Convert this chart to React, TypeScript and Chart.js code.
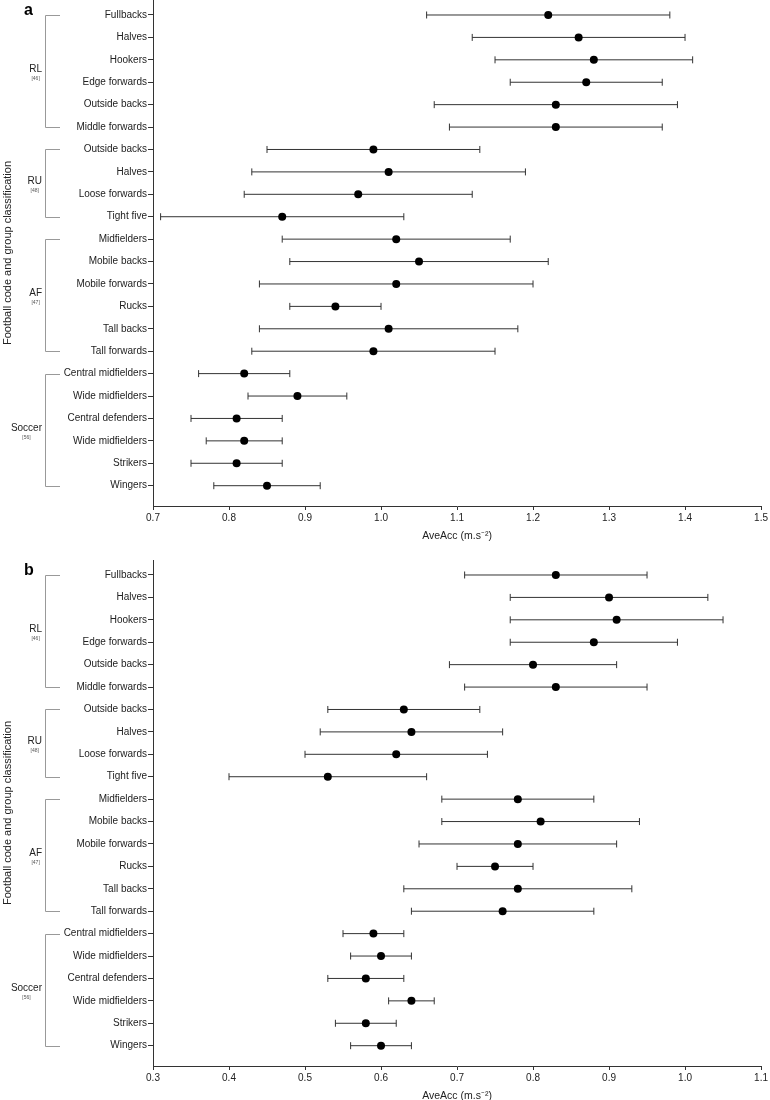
import React, { useEffect, useRef } from 'react';
import { Chart, registerables } from 'chart.js';

Chart.register(...registerables);

const FONT = "'Liberation Sans', Arial, Helvetica, sans-serif";

// Row labels (top to bottom)
const positions = [
  'Fullbacks', 'Halves', 'Hookers', 'Edge forwards', 'Outside backs', 'Middle forwards',
  'Outside backs', 'Halves', 'Loose forwards', 'Tight five',
  'Midfielders', 'Mobile backs', 'Mobile forwards', 'Rucks', 'Tall backs', 'Tall forwards',
  'Central midfielders', 'Wide midfielders', 'Central defenders', 'Wide midfielders', 'Strikers', 'Wingers',
];

// Groups
const groupNames = ['RL', 'RU', 'AF', 'Soccer'];
const groupRefs = ['[46]', '[48]', '[47]', '[56]'];
const groupSizes = [6, 4, 6, 6];

// Panel a
const meanA = [1.22, 1.26, 1.28, 1.27, 1.23, 1.23, 0.99, 1.01, 0.97, 0.87, 1.02, 1.05, 1.02, 0.94, 1.01, 0.99, 0.82, 0.89, 0.81, 0.82, 0.81, 0.85];
const lowA = [1.06, 1.12, 1.15, 1.17, 1.07, 1.09, 0.85, 0.83, 0.82, 0.71, 0.87, 0.88, 0.84, 0.88, 0.84, 0.83, 0.76, 0.825, 0.75, 0.77, 0.75, 0.78];
const highA = [1.38, 1.40, 1.41, 1.37, 1.39, 1.37, 1.13, 1.19, 1.12, 1.03, 1.17, 1.22, 1.20, 1.00, 1.18, 1.15, 0.88, 0.955, 0.87, 0.87, 0.87, 0.92];
const xTicksA = [0.7, 0.8, 0.9, 1.0, 1.1, 1.2, 1.3, 1.4, 1.5];

// Panel b
const meanB = [0.83, 0.90, 0.91, 0.88, 0.80, 0.83, 0.63, 0.64, 0.62, 0.53, 0.78, 0.81, 0.78, 0.75, 0.78, 0.76, 0.59, 0.60, 0.58, 0.64, 0.58, 0.60];
const lowB = [0.71, 0.77, 0.77, 0.77, 0.69, 0.71, 0.53, 0.52, 0.50, 0.40, 0.68, 0.68, 0.65, 0.70, 0.63, 0.64, 0.55, 0.56, 0.53, 0.61, 0.54, 0.56];
const highB = [0.95, 1.03, 1.05, 0.99, 0.91, 0.95, 0.73, 0.76, 0.74, 0.66, 0.88, 0.94, 0.91, 0.80, 0.93, 0.88, 0.63, 0.64, 0.63, 0.67, 0.62, 0.64];
const xTicksB = [0.3, 0.4, 0.5, 0.6, 0.7, 0.8, 0.9, 1.0, 1.1];

const xTitle = 'AveAcc (m.s\u207B\u00B2)';
const yTitle = 'Football code and group classification';

type PanelProps = {
  letter: string;
  lows: number[];
  means: number[];
  highs: number[];
  xTicks: number[];
  top: number;
};

function Panel({ letter, lows, means, highs, xTicks, top }: PanelProps) {
  const ref = useRef<HTMLCanvasElement>(null);

  useEffect(() => {
    const canvas = ref.current;
    if (!canvas) return;

    const decor = {
      id: 'decor',
      beforeDatasetsDraw(chart: any) {
        const { ctx } = chart;
        const x = chart.scales.x;
        const y = chart.scales.y;
        ctx.save();
        ctx.strokeStyle = '#333';
        ctx.lineWidth = 1;
        for (let i = 0; i < means.length; i++) {
          const yy = y.getPixelForValue(i);
          const x1 = x.getPixelForValue(lows[i]);
          const x2 = x.getPixelForValue(highs[i]);
          ctx.beginPath();
          ctx.moveTo(x1, yy);
          ctx.lineTo(x2, yy);
          ctx.moveTo(x1, yy - 3.5);
          ctx.lineTo(x1, yy + 3.5);
          ctx.moveTo(x2, yy - 3.5);
          ctx.lineTo(x2, yy + 3.5);
          ctx.stroke();
        }
        ctx.restore();
      },
      afterDraw(chart: any) {
        const { ctx, chartArea } = chart;
        const y = chart.scales.y;
        ctx.save();
        // panel letter
        ctx.font = `bold 16px ${FONT}`;
        ctx.fillStyle = '#000';
        ctx.textAlign = 'left';
        ctx.textBaseline = 'alphabetic';
        ctx.fillText(letter, 24, chartArea.top + 15);

        let start = 0;
        groupSizes.forEach((n, g) => {
          const y1 = Math.round(y.getPixelForValue(start)) + 0.5;
          const y2 = Math.round(y.getPixelForValue(start + n - 1)) + 0.5;
          ctx.strokeStyle = '#999';
          ctx.lineWidth = 1;
          ctx.beginPath();
          ctx.moveTo(60, y1);
          ctx.lineTo(45.5, y1);
          ctx.lineTo(45.5, y2);
          ctx.lineTo(60, y2);
          ctx.stroke();

          const mid = (y1 + y2) / 2;
          ctx.font = `10px ${FONT}`;
          ctx.fillStyle = '#222';
          ctx.textAlign = 'right';
          ctx.textBaseline = 'middle';
          ctx.fillText(groupNames[g], 42, mid - 2);
          const w = ctx.measureText(groupNames[g]).width;
          ctx.font = `5px ${FONT}`;
          ctx.fillStyle = '#555';
          ctx.textAlign = 'center';
          ctx.fillText(groupRefs[g], 42 - w / 2, mid + 7);
          start += n;
        });
        ctx.restore();
      },
    };

    const chart = new Chart(canvas, {
      type: 'scatter',
      data: {
        datasets: [
          {
            data: means.map((m, i) => ({ x: m, y: i })),
            pointRadius: 4,
            pointHoverRadius: 4,
            pointBackgroundColor: '#000',
            pointBorderWidth: 0,
            showLine: false,
          },
        ],
      },
      options: {
        responsive: false,
        animation: false,
        devicePixelRatio: 1,
        events: [],
        layout: { padding: { top: 10, right: 7, bottom: 0, left: 0 } },
        plugins: {
          legend: { display: false },
          tooltip: { enabled: false },
        },
        scales: {
          x: {
            type: 'linear',
            position: 'bottom',
            min: xTicks[0],
            max: xTicks[xTicks.length - 1],
            afterBuildTicks: (s: any) => {
              s.ticks = xTicks.map((v) => ({ value: v }));
            },
            afterFit: (s: any) => {
              s.height = 44;
            },
            ticks: {
              callback: (v: any) => Number(v).toFixed(1),
              color: '#222',
              font: { size: 10, family: FONT },
              padding: 2,
              maxRotation: 0,
              autoSkip: false,
            },
            grid: { display: true, drawOnChartArea: false, drawTicks: true, tickLength: 4, color: '#333' },
            border: { display: true, color: '#333', width: 1 },
            title: {
              display: true,
              text: xTitle,
              color: '#222',
              font: { size: 10.5, family: FONT },
              padding: { top: 0, bottom: 8 },
            },
          },
          y: {
            type: 'linear',
            position: 'left',
            reverse: true,
            min: -0.669,
            max: 21.906,
            afterBuildTicks: (s: any) => {
              s.ticks = positions.map((_, i) => ({ value: i }));
            },
            afterFit: (s: any) => {
              s.width = 153;
            },
            ticks: {
              callback: (v: any) => positions[Math.round(Number(v))] ?? '',
              color: '#222',
              font: { size: 10, family: FONT },
              padding: 1,
              autoSkip: false,
            },
            grid: { display: true, drawOnChartArea: false, drawTicks: true, tickLength: 5, color: '#333' },
            border: { display: true, color: '#333', width: 1 },
            title: {
              display: true,
              text: yTitle,
              color: '#222',
              font: { size: 11, family: FONT },
              padding: { top: 1, bottom: 0 },
            },
          },
        },
      } as any,
      plugins: [decor],
    });

    return () => chart.destroy();
  }, [letter, lows, means, highs, xTicks]);

  return (
    <canvas
      ref={ref}
      width={770}
      height={560}
      style={{ position: 'absolute', left: 0, top, width: 770, height: 560, display: 'block' }}
    />
  );
}

export default function App() {
  return (
    <div
      style={{
        position: 'absolute',
        left: 0,
        top: 0,
        width: 770,
        height: 1100,
        overflow: 'hidden',
        background: '#fff',
      }}
    >
      <Panel letter="a" lows={lowA} means={meanA} highs={highA} xTicks={xTicksA} top={-10} />
      <Panel letter="b" lows={lowB} means={meanB} highs={highB} xTicks={xTicksB} top={550} />
    </div>
  );
}
